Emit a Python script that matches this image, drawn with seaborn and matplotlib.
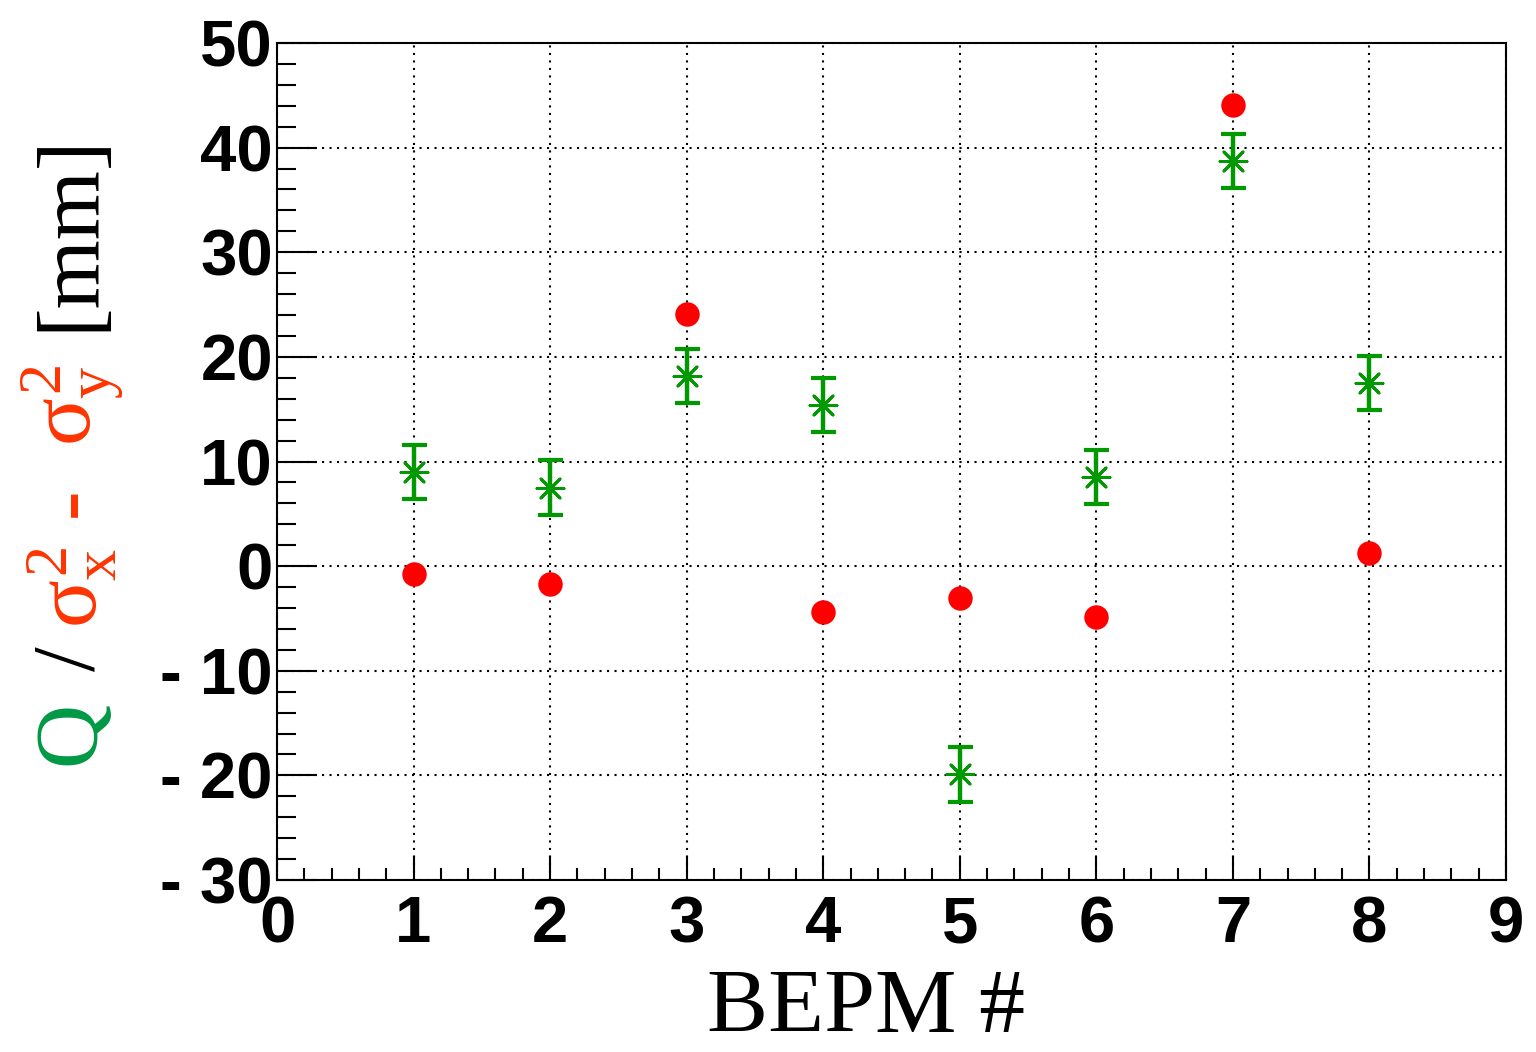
import numpy as np
import pandas as pd
import matplotlib
matplotlib.use("Agg")
import matplotlib.pyplot as plt
import seaborn as sns

# ---- data ----
bepm = [1, 2, 3, 4, 5, 6, 7, 8]
q_values = [9.0, 7.5, 18.2, 15.4, -19.9, 8.5, 38.7, 17.5]
q_errors = [2.6, 2.6, 2.6, 2.6, 2.6, 2.6, 2.6, 2.6]
sigma_diff = [-0.8, -1.7, 24.1, -4.4, -3.0, -4.9, 44.1, 1.3]
x_ticks = [0, 1, 2, 3, 4, 5, 6, 7, 8, 9]
y_ticks = [-30, -20, -10, 0, 10, 20, 30, 40, 50]
y_tick_labels = ["- 30", "- 20", "- 10", "0", "10", "20", "30", "40", "50"]

sns.set_theme(style="white")
plt.rcParams["font.family"] = ["Liberation Sans", "DejaVu Sans"]
plt.rcParams["mathtext.fontset"] = "custom"
plt.rcParams["mathtext.rm"] = "Liberation Serif"
plt.rcParams["mathtext.it"] = "Liberation Serif"
plt.rcParams["mathtext.bf"] = "Liberation Serif:bold"

GREEN = "#009900"
RED = "#ff0000"
LBL_GREEN = "#009944"
LBL_RED = "#ff3300"

W, H = 1536, 1052
fig = plt.figure(figsize=(W / 100, H / 100), dpi=100)
ax = fig.add_axes([277 / W, 1 - 880 / H, (1506 - 277) / W, (880 - 43) / H])

df_q = pd.DataFrame({"bepm": bepm, "q": q_values, "err": q_errors})
df_s = pd.DataFrame({"bepm": bepm, "s": sigma_diff})

# grid
ax.set_axisbelow(True)
ax.grid(True, which="major", color="black", linestyle=(0, (1, 2.6)), linewidth=1.5)

# Q with error bars
ax.errorbar(df_q["bepm"], df_q["q"], yerr=df_q["err"], fmt="none", ecolor=GREEN,
            elinewidth=3.2, capsize=9, capthick=3, zorder=3)
sns.scatterplot(data=df_q, x="bepm", y="q", ax=ax, marker=(8, 2, 0), s=380,
                color=GREEN, edgecolor=GREEN, linewidth=2.0, zorder=4, legend=False)

# sigma difference
sns.scatterplot(data=df_s, x="bepm", y="s", ax=ax, marker="o", s=310,
                color=RED, edgecolor=RED, linewidth=0, zorder=5, legend=False)

ax.set_xlim(0, 9)
ax.set_ylim(-30, 50)
ax.set_xticks(x_ticks)
ax.set_xticklabels([str(v) for v in x_ticks])
ax.set_yticks(y_ticks)
ax.set_yticklabels(y_tick_labels)
ax.set_xticks(np.arange(0, 9.01, 0.2), minor=True)
ax.set_yticks(np.arange(-30, 50.01, 2), minor=True)

ax.tick_params(axis="x", which="major", direction="in", length=17, width=1.5,
               pad=11, labelsize=47, bottom=True, top=False, colors="black",
               labelcolor="black")
ax.tick_params(axis="x", which="minor", direction="in", length=9, width=1.5,
               bottom=True, top=False, colors="black")
ax.tick_params(axis="y", which="major", direction="in", length=29, width=1.5,
               pad=3, labelsize=47, left=True, right=False, colors="black",
               labelcolor="black")
ax.tick_params(axis="y", which="minor", direction="in", length=14, width=1.5,
               left=True, right=False, colors="black")
for lab in ax.get_xticklabels() + ax.get_yticklabels():
    lab.set_fontweight("bold")

for sp in ax.spines.values():
    sp.set_visible(True)
    sp.set_color("black")
    sp.set_linewidth(1.5)

ax.set_xlabel("")
ax.set_ylabel("")

# x label
fig.text(866 / W, 1 - 1010 / H, "BEPM #", family="Liberation Serif", fontsize=66,
         ha="center", va="center", color="black")

# multicolour y label, built from pieces along the vertical
xc = 72 / W
pieces = [
    ("Q", LBL_GREEN, 733),
    ("/", "black", 659),
    (r"$\sigma_{x}^{2}$", LBL_RED, 587),
    ("-", LBL_RED, 502),
    (r"$\sigma_{y}^{2}$", LBL_RED, 405),
    ("[mm]", "black", 232),
]
for txt, col, ypx in pieces:
    fig.text(xc, 1 - ypx / H, txt, family="Liberation Serif", fontsize=64,
             rotation=90, ha="center", va="center", color=col)

fig.savefig("out.png", dpi=100, facecolor="white")
